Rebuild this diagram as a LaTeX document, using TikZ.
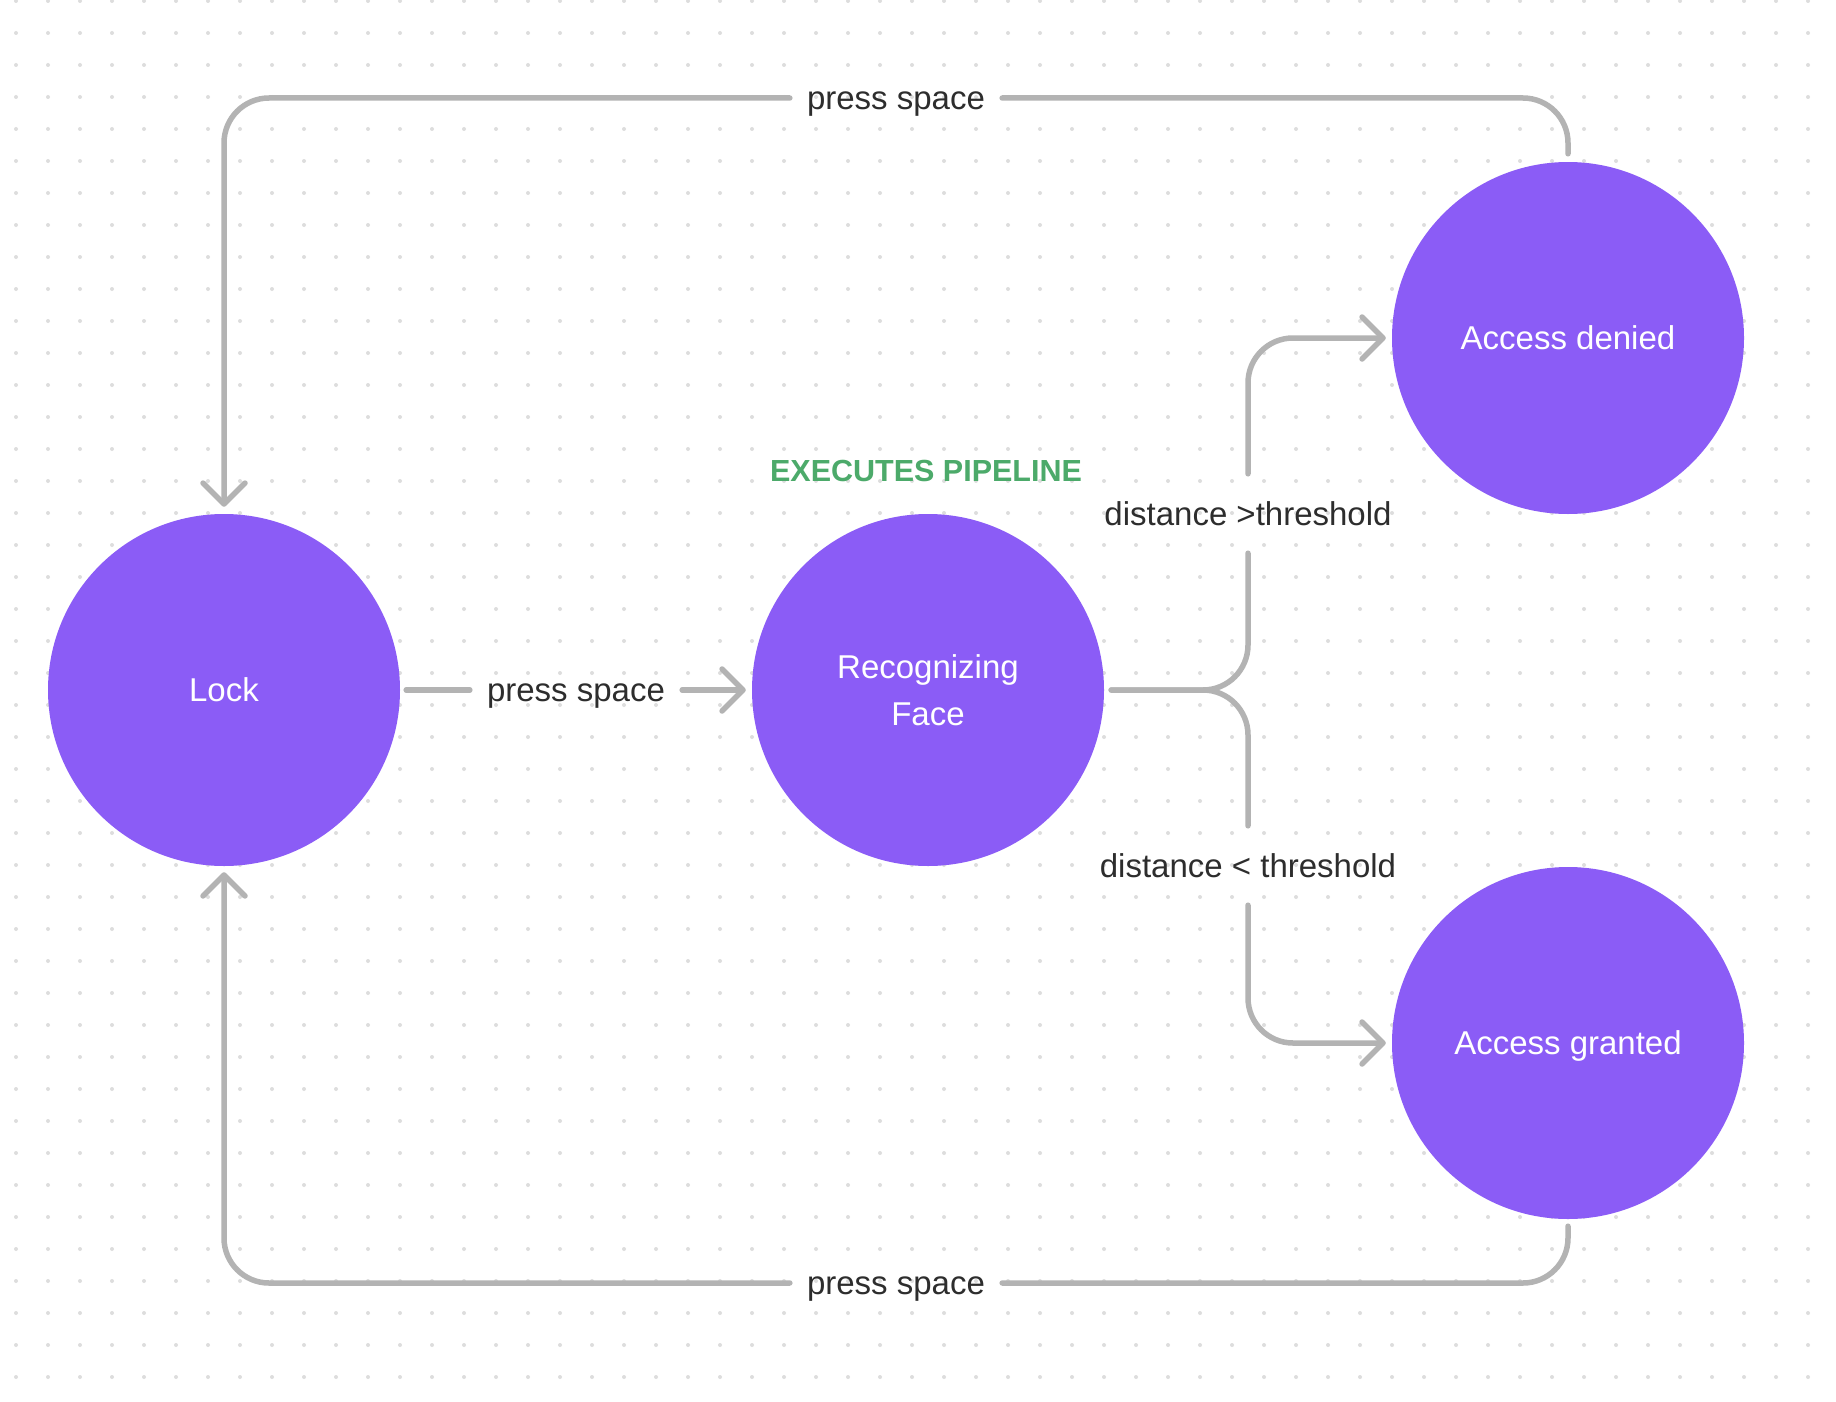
\documentclass[tikz,border=0pt]{standalone}
\usepackage{fontspec}
\setmainfont{Liberation Sans}
\usepackage{tikz}
\usetikzlibrary{arrows.meta}
\definecolor{statefill}{RGB}{139,92,246}
\definecolor{linkgray}{RGB}{179,179,179}
\definecolor{labeltext}{RGB}{45,45,45}
\definecolor{pipegreen}{RGB}{76,170,106}
\definecolor{griddot}{RGB}{221,221,221}
\tikzset{
	state/.style={circle, fill=statefill, draw=none, minimum size=352pt, inner sep=0pt,
		text=white, align=center, text depth=0pt, font=\fontsize{33}{47}\selectfont},
	link/.style={draw=linkgray, line width=5.5pt, line cap=round, rounded corners=45pt},
	tip/.style={-{Straight Barb[round, length=21pt, width=42pt]}},
	lbl/.style={text=labeltext, font=\fontsize{33}{40}\selectfont, text height=28pt,
		text depth=5pt, inner xsep=17pt, inner ysep=23pt},
}

\begin{document}
\begin{tikzpicture}[x=1pt, y=-1pt]
			%%%%% START %%%%%
			
			\useasboundingbox[fill=white] (0, 0) rectangle (1836, 1402);
			\foreach \i in {0,...,56}
				\foreach \j in {0,...,43}
					\fill[griddot] (16+32*\i, 1+32*\j) circle (2pt);
			
			\node[state] (lock) at (224, 690) {Lock};
			\node[state] (recog) at (928, 690) {Recognizing\\Face};
			\node[state] (denied) at (1568, 338) {Access denied};
			\node[state] (granted) at (1568, 1043) {Access granted};
			
			\node[text=pipegreen, font=\fontsize{30.5}{36}\selectfont\bfseries] (pipe) at (926, 471) {EXECUTES PIPELINE};
			
			\node[lbl] (pmid) at (576, 690) {press space};
			\node[lbl] (ptop) at (896, 98) {press space};
			\node[lbl] (pbot) at (896, 1283) {press space};
			\node[lbl] (dgt) at (1248, 513.5) {distance >threshold};
			\node[lbl] (dlt) at (1248, 865.5) {distance < threshold};
			
			\draw[link, shorten <=6pt] (lock.east) -- (pmid.west);
			\draw[link, tip, shorten >=6pt] (pmid.east) -- (recog.west);
			
			\draw[link, shorten <=8pt] (denied.north) |- (ptop.east);
			\draw[link, tip, shorten >=7pt] (ptop.west) -| (lock.north);
			
			\draw[link, shorten <=7pt] (granted.south) |- (pbot.east);
			\draw[link, tip, shorten >=6pt] (pbot.west) -| (lock.south);
			
			\draw[link, shorten <=7pt] (recog.east) -| (dgt.south);
			\draw[link, tip, shorten >=6pt] (dgt.north) |- (denied.west);
			\draw[link, shorten <=7pt] (recog.east) -| (dlt.north);
			\draw[link, tip, shorten >=6pt] (dlt.south) |- (granted.west);
			
			%%%%% END %%%%%
\end{tikzpicture}
\end{document}
